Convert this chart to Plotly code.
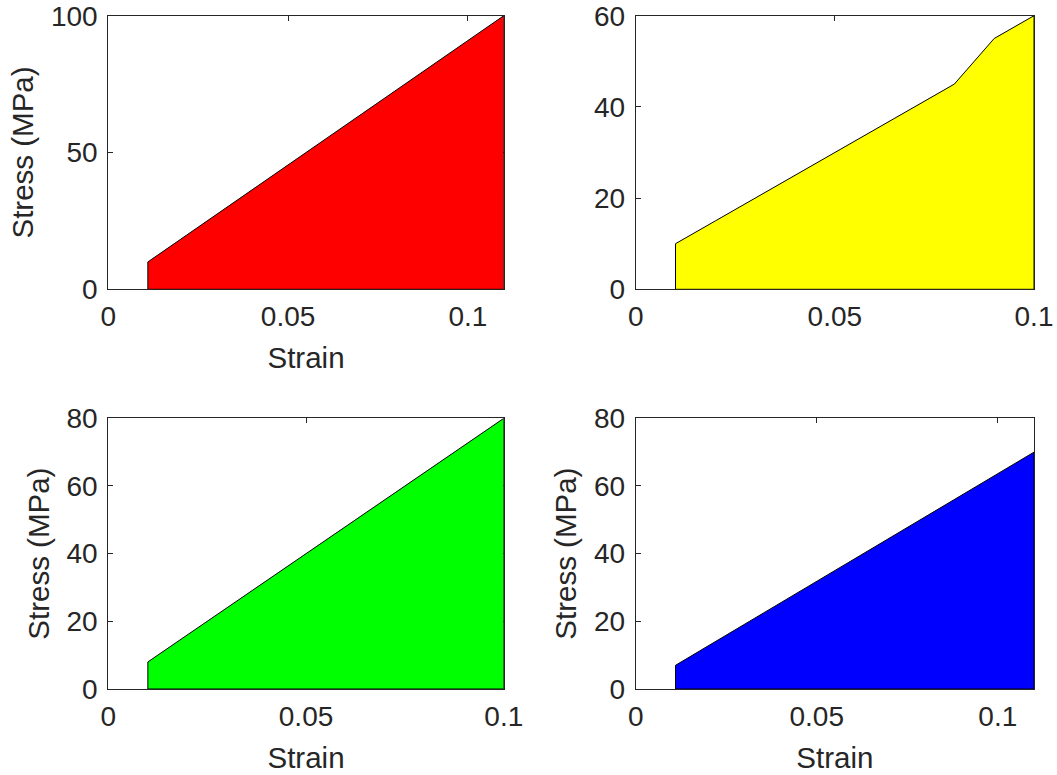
import plotly.graph_objects as go

# Stress-strain curves for four specimens
strain_a = [0.011, 0.11]
stress_a = [10, 100]

strain_b = [0.01, 0.02, 0.03, 0.04, 0.05, 0.06, 0.07, 0.08, 0.09, 0.10]
stress_b = [10, 15, 20, 25, 30, 35, 40, 45, 55, 60]

strain_c = [0.01, 0.10]
stress_c = [8, 80]

strain_d = [0.011, 0.11]
stress_d = [7, 70]

colors = ["#ff0000", "#ffff00", "#00ff00", "#0000ff"]
x_ranges = [[0, 0.11], [0, 0.10], [0, 0.10], [0, 0.11]]
y_ranges = [[0, 100], [0, 60], [0, 80], [0, 80]]
y_ticks = [[0, 50, 100], [0, 20, 40, 60], [0, 20, 40, 60, 80], [0, 20, 40, 60, 80]]
x_ticks = [0, 0.05, 0.1]
x_ticktext = ["0", "0.05", "0.1"]
show_titles = [True, False, True, True]

W, H = 1057, 775
# panel boxes in pixels: left, right, top, bottom
boxes = [(108.3, 503.8, 15.7, 289.3), (635.7, 1034.0, 15.7, 289.3),
         (108.3, 503.8, 418.3, 689.0), (635.7, 1034.0, 418.3, 689.0)]

series = [(strain_a, stress_a), (strain_b, stress_b), (strain_c, stress_c), (strain_d, stress_d)]

fig = go.Figure()
family = "Liberation Sans, Arial, sans-serif"
axis_color = "#262626"
tick_font = dict(family=family, size=28, color=axis_color)
title_font = dict(family=family, size=29.5, color=axis_color)

for i, ((sx, sy), col) in enumerate(zip(series, colors)):
    n = "" if i == 0 else str(i + 1)
    # closed polygon from the curve down to zero stress
    px = [sx[0]] + list(sx) + [sx[-1], sx[0]]
    py = [0] + list(sy) + [0, 0]
    fig.add_trace(go.Scatter(
        x=px, y=py, fill="toself", fillcolor=col, mode="lines",
        line=dict(color="#000000", width=1), showlegend=False,
        xaxis="x" + n, yaxis="y" + n, hoverinfo="skip"))

    l, r, t, b = boxes[i]
    xa = dict(
        domain=[l / W, r / W], range=x_ranges[i], anchor="y" + n,
        tickvals=x_ticks, ticktext=x_ticktext, ticks="inside", ticklen=5,
        tickcolor=axis_color, showline=True, linecolor=axis_color, linewidth=1,
        mirror="ticks", showgrid=False, zeroline=False, tickfont=tick_font,
        ticklabelstandoff=2, layer="below traces", automargin=False,
    )
    ya = dict(
        domain=[1 - b / H, 1 - t / H], range=y_ranges[i], anchor="x" + n,
        tickvals=y_ticks[i], ticks="inside", ticklen=5,
        tickcolor=axis_color, showline=True, linecolor=axis_color, linewidth=1,
        mirror="ticks", showgrid=False, zeroline=False, tickfont=tick_font,
        ticklabelstandoff=4, layer="below traces", automargin=False,
    )
    if show_titles[i]:
        xa["title"] = dict(text="Strain", font=title_font, standoff=16)
        ya["title"] = dict(text="Stress (MPa)", font=title_font, standoff=8)
    fig.update_layout(**{"xaxis" + n: xa, "yaxis" + n: ya})

fig.update_layout(
    width=W, height=H, margin=dict(l=0, r=0, t=0, b=0),
    paper_bgcolor="white", plot_bgcolor="white",
)

fig.write_html("out.html")
